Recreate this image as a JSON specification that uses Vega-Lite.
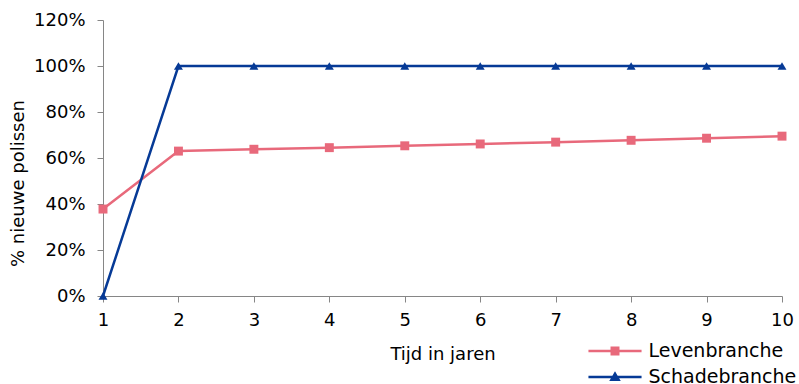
{
  "$schema": "https://vega.github.io/schema/vega-lite/v6.json",
  "width": 679,
  "height": 276,
  "autosize": "none",
  "padding": {"left": 103, "top": 20, "right": 17, "bottom": 88},
  "background": "white",
  "config": {
    "font": "DejaVu Sans",
    "view": {"stroke": null},
    "axis": {
      "grid": false,
      "domainColor": "#868686",
      "tickColor": "#868686",
      "tickSize": 6,
      "labelFont": "DejaVu Sans",
      "labelFontSize": 18,
      "labelColor": "#000000",
      "titleFont": "DejaVu Sans",
      "titleFontSize": 18,
      "titleFontWeight": "normal",
      "titleColor": "#000000"
    }
  },
  "data": {
    "values": [
      {"series": "Levenbranche", "jaar": 1, "pct": 0.378},
      {"series": "Levenbranche", "jaar": 2, "pct": 0.630},
      {"series": "Levenbranche", "jaar": 3, "pct": 0.638},
      {"series": "Levenbranche", "jaar": 4, "pct": 0.645},
      {"series": "Levenbranche", "jaar": 5, "pct": 0.653},
      {"series": "Levenbranche", "jaar": 6, "pct": 0.661},
      {"series": "Levenbranche", "jaar": 7, "pct": 0.669},
      {"series": "Levenbranche", "jaar": 8, "pct": 0.677},
      {"series": "Levenbranche", "jaar": 9, "pct": 0.686},
      {"series": "Levenbranche", "jaar": 10, "pct": 0.695},
      {"series": "Schadebranche", "jaar": 1, "pct": 0.0},
      {"series": "Schadebranche", "jaar": 2, "pct": 1.0},
      {"series": "Schadebranche", "jaar": 3, "pct": 1.0},
      {"series": "Schadebranche", "jaar": 4, "pct": 1.0},
      {"series": "Schadebranche", "jaar": 5, "pct": 1.0},
      {"series": "Schadebranche", "jaar": 6, "pct": 1.0},
      {"series": "Schadebranche", "jaar": 7, "pct": 1.0},
      {"series": "Schadebranche", "jaar": 8, "pct": 1.0},
      {"series": "Schadebranche", "jaar": 9, "pct": 1.0},
      {"series": "Schadebranche", "jaar": 10, "pct": 1.0}
    ]
  },
  "encoding": {
    "x": {
      "field": "jaar",
      "type": "quantitative",
      "scale": {"domain": [1, 10], "nice": false, "zero": false},
      "axis": {
        "title": "Tijd in jaren",
        "values": [1, 2, 3, 4, 5, 6, 7, 8, 9, 10],
        "format": "d",
        "labelFlush": false,
        "labelOverlap": false,
        "labelPadding": 9,
        "titleY": 58,
        "titleBaseline": "middle"
      }
    },
    "y": {
      "field": "pct",
      "type": "quantitative",
      "scale": {"domain": [0, 1.2], "nice": false},
      "axis": {
        "title": "% nieuwe polissen",
        "values": [0, 0.2, 0.4, 0.6, 0.8, 1.0, 1.2],
        "format": ".0%",
        "labelPadding": 12,
        "titleX": -85,
        "titleY": 163,
        "titleAngle": -90,
        "titleAlign": "center",
        "titleBaseline": "middle"
      }
    }
  },
  "layer": [
    {
      "mark": {"type": "point", "filled": true, "opacity": 0, "size": 30},
      "encoding": {
        "fill": {
          "field": "series",
          "type": "nominal",
          "scale": {"domain": ["Levenbranche", "Schadebranche"], "range": ["#E8697B", "#063A96"]},
          "legend": {
            "title": null, "orient": "none", "legendX": 502.5, "legendY": 321.5, "padding": 0,
            "symbolSize": 81, "symbolStrokeWidth": 2.5, "symbolOpacity": 1,
            "labelFont": "DejaVu Sans", "labelFontSize": 19, "labelColor": "#000000", "labelOffset": 24, "rowPadding": 6,
            "encode": {"symbols": {"update": {"stroke": {"scale": "fill", "field": "value"}, "strokeWidth": {"value": 2.5}, "opacity": {"value": 1}}}}
          }
        },
        "shape": {
          "field": "series",
          "type": "nominal",
          "scale": {
            "domain": ["Levenbranche", "Schadebranche"],
            "range": ["M-5.9,0H5.9M-0.72,-0.72H0.72V0.72H-0.72Z", "M-5.9,0H5.9M-0.8,0.62L0,-0.75L0.8,0.62Z"]
          },
          "legend": {
            "title": null, "orient": "none", "legendX": 502.5, "legendY": 321.5, "padding": 0,
            "symbolSize": 81, "symbolStrokeWidth": 2.5, "symbolOpacity": 1,
            "labelFont": "DejaVu Sans", "labelFontSize": 19, "labelColor": "#000000", "labelOffset": 24, "rowPadding": 6,
            "encode": {"symbols": {"update": {"stroke": {"scale": "fill", "field": "value"}, "strokeWidth": {"value": 2.5}, "opacity": {"value": 1}}}}
          }
        }
      }
    },
    {
      "mark": {"type": "line", "strokeWidth": 2.5},
      "encoding": {
        "color": {
          "field": "series",
          "type": "nominal",
          "scale": {"domain": ["Levenbranche", "Schadebranche"], "range": ["#E8697B", "#063A96"]},
          "legend": null
        }
      }
    },
    {
      "transform": [{"filter": "datum.series === 'Levenbranche'"}],
      "mark": {"type": "point", "filled": true, "opacity": 1, "size": 80, "shape": "square", "color": "#E8697B"},
      "encoding": {}
    },
    {
      "transform": [{"filter": "datum.series === 'Schadebranche'"}],
      "mark": {"type": "point", "filled": true, "opacity": 1, "size": 80, "shape": "triangle-up", "color": "#063A96"},
      "encoding": {}
    }
  ]
}
